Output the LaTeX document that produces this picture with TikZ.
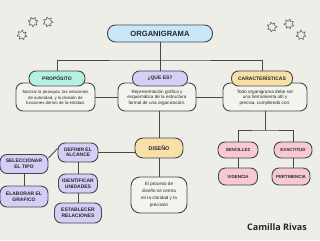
\documentclass[tikz,border=0pt]{standalone}
\usepackage{fontspec}
\setmainfont{Liberation Sans}
\newfontfamily\signfont{Open Sans}
\usetikzlibrary{positioning}
\definecolor{paper}{HTML}{EEEEE9}
\definecolor{edge}{HTML}{474747}
\definecolor{ink}{HTML}{262626}
\definecolor{boxfill}{HTML}{F3F3EF}
\definecolor{skyfill}{HTML}{C9E7F9}
\definecolor{mintfill}{HTML}{B6F0E1}
\definecolor{lilacfill}{HTML}{D6CEF6}
\definecolor{sandfill}{HTML}{F8E0A9}
\definecolor{rosefill}{HTML}{F6C9D3}

\begin{document}
\begin{tikzpicture}[x=1pt,y=-1pt]
  % Styles for pills, text boxes and links
  \tikzset{pill/.style={draw=edge, line width=0.9pt, rounded corners=7pt, inner sep=0pt, align=center, text=ink, font=\bfseries\fontsize{5}{5.6}\selectfont}}
  \tikzset{textbox/.style={draw=edge, line width=0.9pt, fill=boxfill, rounded corners=7pt, inner sep=0pt, align=center, text=ink, font=\fontsize{4.6}{5.9}\selectfont}}
  \tikzset{link/.style={draw=edge, line width=0.9pt}}
  \tikzset{starline/.style={draw=edge!90, line width=0.55pt, line join=round}}

  \useasboundingbox (0,0) rectangle (320,240);
  \fill[paper] (0,0) rectangle (320,240);

  % Stars
  \foreach \sx/\sy/\rot in {33/22/0, 48/22/15, 22/35/30, 272/27/10, 289/24/-15, 301/35/25}{
    \draw[starline] (\sx,\sy) +(90+\rot:5) \foreach \k in {1,...,13}{ -- +({90+\rot+\k*360/14}:{4+1.1*cos(\k*180)}) } -- cycle;
  }

  % Title
  \node[pill, fill=skyfill, minimum width=105pt, minimum height=17pt, rounded corners=8pt, font=\bfseries\fontsize{7.6}{8}\selectfont] (title) at (160,33.5) {ORGANIGRAMA};
  \coordinate (bus) at (160,60);

  % Text boxes of the first row
  \node[textbox, minimum width=79pt, minimum height=28pt, font=\fontsize{4.3}{5.5}\selectfont] (propbox) at (55.5,97) {\\[-1pt]Mostrar la jerarquía, las relaciones\\de autoridad, y la división de\\funciones dentro de la entidad.};
  \node[textbox, minimum width=78pt, minimum height=28pt] (quebox) at (157,97) {\\[-1pt]Representación gráfica y\\esquemática de la estructura\\formal de una organización.};
  \node[textbox, minimum width=84pt, minimum height=28pt] (carbox) at (265,97) {\\[-1pt]Todo organigrama debe ser\\una herramienta útil y\\precisa, cumpliendo con:};

  % First row pills
  \node[pill, fill=mintfill, minimum width=56pt, minimum height=15pt] (prop) at (57,78.5) {PROPÓSITO};
  \node[pill, fill=lilacfill, minimum width=55pt, minimum height=15pt] (quees) at (160,78.5) {¿QUE ES?};
  \node[pill, fill=sandfill, minimum width=61pt, minimum height=15pt] (car) at (262,78.5) {CARACTERÍSTICAS};

  % Design branch
  \node[pill, fill=sandfill, minimum width=48pt, minimum height=20pt, rounded corners=8pt, font=\bfseries\fontsize{5.4}{6}\selectfont] (diseno) at (159,148) {DISEÑO};
  \node[textbox, minimum width=56pt, minimum height=36pt, rounded corners=9pt, font=\fontsize{4.6}{6.9}\selectfont] (disbox) at (159,195) {El proceso de\\diseño se centra\\en la claridad y la\\precisión};

  \node[pill, fill=lilacfill, minimum width=40pt, minimum height=19pt] (definir) at (78,152.5) {DEFINIR EL\\ALCANCE};
  \node[pill, fill=lilacfill, minimum width=48pt, minimum height=19pt] (selec) at (24,164) {SELECCIONAR\\EL TIPO};
  \node[pill, fill=lilacfill, minimum width=48pt, minimum height=21pt] (elab) at (24,196.5) {ELABORAR EL\\GRAFICO};
  \node[pill, fill=lilacfill, minimum width=39pt, minimum height=19pt] (ident) at (78,183.5) {IDENTIFICAR\\UNIDADES};
  \node[pill, fill=lilacfill, minimum width=47pt, minimum height=20pt] (estab) at (78,213) {ESTABLECER\\RELACIONES};

  % Characteristics branch
  \coordinate (cbus) at (265,130);
  \node[pill, fill=rosefill, minimum width=40pt, minimum height=16pt, font=\bfseries\fontsize{4.4}{5}\selectfont] (sen) at (238,150) {SENCILLEZ};
  \node[pill, fill=rosefill, minimum width=38pt, minimum height=16pt, font=\bfseries\fontsize{4.4}{5}\selectfont] (exa) at (293,150) {EXACTITUD};
  \node[pill, fill=rosefill, minimum width=39pt, minimum height=17pt, font=\bfseries\fontsize{4.4}{5}\selectfont] (vig) at (238,176.5) {VIGENCIA};
  \node[pill, fill=rosefill, minimum width=38pt, minimum height=17pt, font=\bfseries\fontsize{4.4}{5}\selectfont] (per) at (291,176.5) {PERTINENCIA};

  % Links
  \draw[link] (title) -- (quees);
  \draw[link] (prop.north) |- (bus) -| (car.north);
  \draw[link] (propbox) -- (quebox);
  \draw[link] (quebox) -- (carbox);
  \draw[link] (quebox.south -| diseno.north) -- (diseno.north);
  \draw[link] (diseno) -- (disbox);
  \draw[link] (definir.east) -- (definir.east -| diseno.west);
  \draw[link] ([yshift=6pt]selec.east) -- ([yshift=4pt]definir.west);
  \draw[link] (selec) -- (elab);
  \draw[link] (definir) -- (ident);
  \draw[link] (ident) -- (estab);
  \draw[link] (carbox.south) -- (cbus);
  \draw[link] (sen.north) |- (cbus) -| (exa.north);
  \draw[link] (sen) -- (vig);
  \draw[link] (exa.south) -- (exa.south |- per.north);

  % Signature
  \node[text=ink, font=\signfont\bfseries\fontsize{9}{10}\selectfont, inner sep=0pt] (sign) at (277,227) {Camilla Rivas};
\end{tikzpicture}
\end{document}
